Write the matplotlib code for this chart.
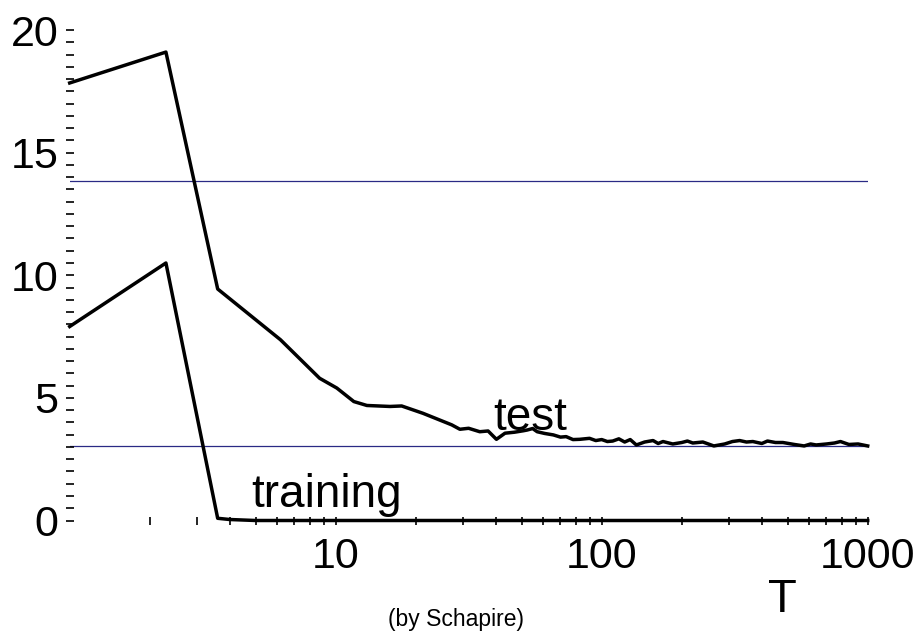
import matplotlib
matplotlib.use("Agg")
import matplotlib.pyplot as plt
from matplotlib.ticker import FixedLocator, NullFormatter

# ----- data -----
train_T = [1, 2.3, 3.6, 4.0, 5.0, 10, 100, 1000]
train_err = [7.91, 10.5, 0.09, 0.04, 0.0, 0.0, 0.0, 0.0]

test_T = [1, 2.3, 3.6, 6.2, 8.7, 10.1, 11.7, 13.1, 16, 17.7, 21.3, 27.3, 29.3,
          31.6, 34.8, 37.4, 40.2, 43.3, 47, 50.8, 52.5, 55, 57.2, 61, 65.8,
          70, 73.5, 78, 82.6, 90, 95, 100, 105, 110, 116, 122, 128, 135, 145,
          156, 163, 170, 185, 200, 210, 220, 240, 264, 290, 310, 330, 350,
          370, 400, 420, 450, 480, 530, 577, 610, 640, 700, 750, 790, 850,
          920, 1000]
test_err = [17.84, 19.1, 9.44, 7.37, 5.80, 5.40, 4.85, 4.69, 4.65, 4.67, 4.37,
            3.90, 3.72, 3.76, 3.62, 3.65, 3.31, 3.56, 3.60, 3.66, 3.69, 3.75,
            3.62, 3.55, 3.49, 3.40, 3.42, 3.30, 3.31, 3.35, 3.26, 3.30, 3.22,
            3.24, 3.33, 3.20, 3.30, 3.08, 3.20, 3.26, 3.14, 3.22, 3.12, 3.18,
            3.24, 3.16, 3.20, 3.04, 3.12, 3.22, 3.26, 3.20, 3.22, 3.14, 3.24,
            3.18, 3.18, 3.10, 3.04, 3.12, 3.08, 3.12, 3.16, 3.22, 3.10, 3.12,
            3.04]

ref_levels = [13.83, 3.05]

x_major = [10, 100, 1000]
x_minor = [2, 3, 4, 5, 6, 7, 8, 9, 20, 30, 40, 50, 60, 70, 80, 90,
           200, 300, 400, 500, 600, 700, 800, 900]

FONT = "Liberation Sans"

fig = plt.figure(figsize=(9.22, 6.33), dpi=100)
ax = fig.add_axes([69.7 / 922, 112.5 / 633, (867.7 - 69.7) / 922, 490.5 / 633])

for lvl in ref_levels:
    ax.axhline(lvl, color="#2a2a85", lw=0.9, zorder=1)

ax.plot(train_T, train_err, color="black", lw=2.5, clip_on=False, zorder=3)
ax.plot(test_T, test_err, color="black", lw=2.5, clip_on=False, zorder=3)

ax.set_xscale("log")
ax.set_xlim(1, 1000)
ax.set_ylim(0, 20)

for s in ax.spines.values():
    s.set_visible(False)

ax.xaxis.set_major_locator(FixedLocator(x_major))
ax.xaxis.set_minor_locator(FixedLocator(x_minor))
ax.xaxis.set_minor_formatter(NullFormatter())
ax.set_xticklabels(["10", "100", "1000"])
ax.set_yticks([0, 5, 10, 15, 20])
ax.set_yticks([i * 0.5 for i in range(41)], minor=True)

ax.tick_params(which="both", direction="inout", length=6, width=1.2,
               color="black")
ax.tick_params(axis="x", which="major", pad=9, labelsize=31)
ax.tick_params(axis="y", which="major", pad=5, labelsize=31)
for lab in ax.get_xticklabels() + ax.get_yticklabels():
    lab.set_fontfamily(FONT)

ax.text(39.0, 3.69, "test", fontsize=33, family=FONT, ha="left", va="baseline")
ax.text(4.82, 0.56, "training", fontsize=33, family=FONT, ha="left", va="baseline")

fig.text(782 / 922, 21 / 633, "T", fontsize=34, family=FONT, ha="center", va="baseline")
fig.text(456 / 922, 7 / 633, "(by Schapire)", fontsize=16.5, family=FONT,
         ha="center", va="baseline")

fig.savefig("out.png", dpi=100)
